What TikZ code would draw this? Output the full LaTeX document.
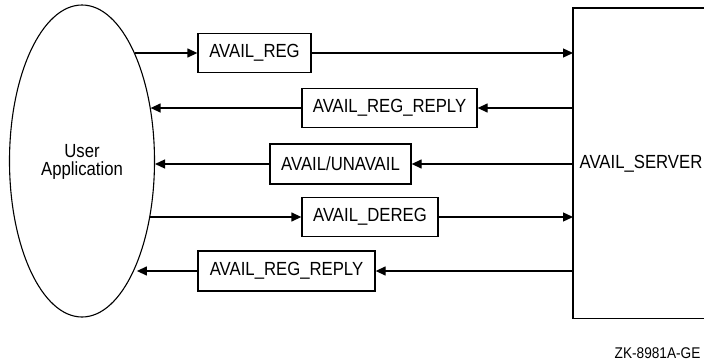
\documentclass[tikz,border=0pt]{standalone}
\usepackage{fontspec}
\setmainfont{Liberation Sans}
\newfontfamily\narrowfont[FakeStretch=0.88]{Liberation Sans}
\usetikzlibrary{arrows.meta,shapes.geometric}
\begin{document}
\begin{tikzpicture}[x=1pt,y=-1pt,
  line width=1.3pt,
  msg/.style={draw,rectangle,inner sep=0pt,font=\narrowfont\fontsize{19}{21}\selectfont},
  arr/.style={-{Triangle[length=10pt,width=9pt]}},
  lbl/.style={font=\narrowfont\fontsize{19}{21}\selectfont,align=center}]
\useasboundingbox (0,0) rectangle (704,364);
% user application
\node[ellipse,draw,line width=1.1pt,minimum width=145,minimum height=312,inner sep=0pt] (app) at (82,161) {};
\node[lbl] (applbl) at (82,162) {User\\[-3pt]Application};
% server
\node[rectangle,minimum width=160,minimum height=309,inner sep=0pt,anchor=north west] (srv) at (573,8) {};
\draw (srv.north east) -- (srv.north west) -- (srv.south west) -- (srv.south east);
\node[lbl,anchor=west,inner sep=0pt] (srvlbl) at (579,164) {AVAIL\_SERVER};
% messages
\node[msg,minimum width=113,minimum height=39] (b1) at (254.5,53) {AVAIL\_REG};
\node[msg,minimum width=175,minimum height=39] (b2) at (389.5,108) {AVAIL\_REG\_REPLY};
\node[msg,minimum width=141,minimum height=40] (b3) at (340.5,164) {AVAIL/UNAVAIL};
\node[msg,minimum width=136,minimum height=39] (b4) at (370,217) {AVAIL\_DEREG};
\node[msg,minimum width=177,minimum height=40] (b5) at (286.5,271) {AVAIL\_REG\_REPLY};
% row 1
\draw[arr] (app.64 |- b1.west) -- (b1.west);
\draw[arr] (b1.east) -- (b1.east -| srv.west);
% row 2
\draw[arr] (b2.east -| srv.west) -- (b2.east);
\draw[arr] (b2.west) -- (app.38 |- b2.west);
% row 3
\draw[arr] (b3.east -| srv.west) -- (b3.east);
\draw[arr] (b3.west) -- (app.-3 |- b3.west);
% row 4
\draw[arr] (app.-40 |- b4.west) -- (b4.west);
\draw[arr] (b4.east) -- (b4.east -| srv.west);
% row 5
\draw[arr] (b5.east -| srv.west) -- (b5.east);
\draw[arr] (b5.west) -- (app.-62 |- b5.west);
% figure id
\node[font=\narrowfont\fontsize{15.5}{17}\selectfont,anchor=east,inner sep=0pt] (fig) at (701,353) {ZK-8981A-GE};
\end{tikzpicture}
\end{document}
